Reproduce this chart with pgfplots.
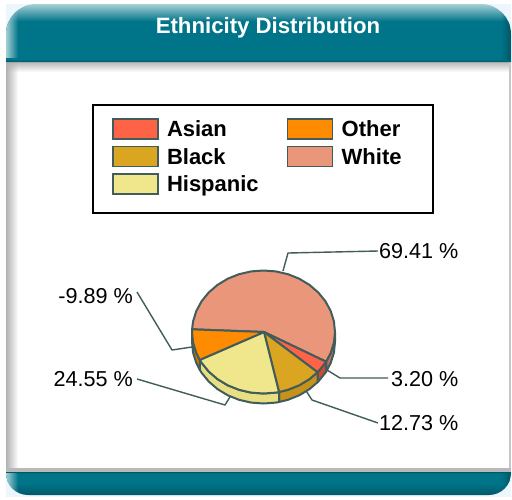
\documentclass[border=0pt]{standalone}
\usepackage{fontspec}
\setmainfont{Liberation Sans}
\usepackage{pgfplots}
\pgfplotsset{compat=1.18}
\usetikzlibrary{fadings}

\definecolor{cAsian}{RGB}{255,99,71}
\definecolor{cBlack}{RGB}{218,165,32}
\definecolor{cHisp}{RGB}{240,230,140}
\definecolor{cOther}{RGB}{255,140,0}
\definecolor{cWhite}{RGB}{233,150,122}
\definecolor{wAsian}{RGB}{205,75,50}
\definecolor{wBlack}{RGB}{198,146,26}
\definecolor{wHisp}{RGB}{232,222,130}
\definecolor{wOther}{RGB}{214,118,0}
\definecolor{wWhite}{RGB}{190,115,90}
\definecolor{cEdge}{RGB}{66,92,92}
\definecolor{cTeal}{RGB}{0,116,137}
\definecolor{cDark}{RGB}{0,88,104}
\definecolor{cLight}{RGB}{165,208,214}
\definecolor{cPage}{RGB}{238,246,253}

\pgfdeclareverticalshading{headshade}{100bp}{color(0bp)=(cDark); color(25bp)=(cDark); color(27.5bp)=(cTeal); color(60bp)=(cTeal); color(75bp)=(cLight); color(100bp)=(cLight)}
\pgfdeclareverticalshading{footshade}{100bp}{color(0bp)=(cDark); color(25bp)=(cDark); color(50bp)=(cTeal); color(72bp)=(cTeal); color(75bp)=(cDark); color(100bp)=(cDark)}

\tikzset{
    swatch/.style={draw=cEdge, line width=1.5pt, fill=#1},
    leader/.style={draw=cEdge, line width=1.4pt, line join=round},
    vlabel/.style={inner sep=0pt, font=\fontsize{21.6}{24}\selectfont},
}
\pgfplotsset{
    wedge/.style={draw=cEdge, line width=2pt, line join=round, forget plot},
}

\begin{document}
\begin{tikzpicture}
\begin{axis}[
    at={(0,0)}, anchor=south west,
    scale only axis, width=512pt, height=499pt,
    xmin=0, xmax=512, ymin=0, ymax=499,
    y dir=reverse,
    hide axis, clip=false,
    legend columns=2,
    legend cell align=left,
    legend image code/.code={\draw[#1] (0pt,-10pt) rectangle (45pt,10pt);},
    legend style={
        draw=none, fill=none,
        at={(axis cs:112,118)}, anchor=north west,
        font=\fontsize{22}{24}\selectfont\bfseries,
        inner sep=0pt, outer sep=0pt,
        row sep=6pt,
        nodes={inner sep=0pt, text height=15.5pt, text depth=0pt},
        /tikz/every odd column/.append style={column sep=8.5pt},
        /tikz/every even column/.append style={column sep=28pt},
    },
]
% panel background
\fill[white] (axis cs:0,0) rectangle (axis cs:512,499);
\fill[cPage] (axis cs:6,4) rectangle (axis cs:511,497);
\fill[white] (axis cs:6,60) rectangle (axis cs:511,472);
\shade[top color=gray!70, bottom color=white, opacity=0.8] (axis cs:6,62) rectangle (axis cs:511,72);
\fill[gray!60, path fading=east] (axis cs:6,62) rectangle (axis cs:18,470);
\fill[gray!45] (axis cs:509,62) rectangle (axis cs:511,472);
\fill[gray!55] (axis cs:6,468) rectangle (axis cs:511,473);
% header and footer
\begin{scope}
\clip (axis cs:6,62) [rounded corners=30pt] -- (axis cs:6,4) -- (axis cs:511,4) [sharp corners] -- (axis cs:511,62) -- cycle;
\shade[shading=headshade] (axis cs:6,4) rectangle (axis cs:511,62);
\fill[cLight, path fading=east] (axis cs:6,4) rectangle (axis cs:18,58);
\fill[cDark, path fading=west] (axis cs:501,4) rectangle (axis cs:511,60);
\end{scope}
\begin{scope}
\clip (axis cs:6,472) [rounded corners=22pt] -- (axis cs:6,495) -- (axis cs:511,495) [sharp corners] -- (axis cs:511,472) -- cycle;
\shade[shading=footshade] (axis cs:6,472) rectangle (axis cs:511,495);
\fill[cLight, path fading=east] (axis cs:6,473) rectangle (axis cs:18,495);
\fill[cDark, path fading=west] (axis cs:501,473) rectangle (axis cs:511,495);
\end{scope}
\node[text=white, font=\fontsize{22.2}{24}\selectfont\bfseries] at (axis cs:268,27.5) {Ethnicity Distribution};

% legend box
\draw[black, line width=1.5pt] (axis cs:93,105) rectangle (axis cs:433,213);
\addlegendimage{swatch=cAsian}\addlegendentry{Asian}
\addlegendimage{swatch=cOther}\addlegendentry{Other}
\addlegendimage{swatch=cBlack}\addlegendentry{Black}
\addlegendimage{swatch=cWhite}\addlegendentry{White}
\addlegendimage{swatch=cHisp}\addlegendentry{Hispanic}

% leaders
\draw[leader] (axis cs:283,271) -- (axis cs:288,253) -- (axis cs:378,251);
\draw[leader] (axis cs:137,292) -- (axis cs:172,350) -- (axis cs:192,347);
\draw[leader] (axis cs:137,379) -- (axis cs:225,405) -- (axis cs:233,392);
\draw[leader] (axis cs:327,370) -- (axis cs:340,378) -- (axis cs:388,378);
\draw[leader] (axis cs:303,386) -- (axis cs:312,400) -- (axis cs:378,423);

% side walls of the pie
\addplot[wedge, fill=wWhite] coordinates {(335,332) (333.9,342.7) (330.7,353) (326.1,361.7) (326.1,371.7) (330.7,363) (333.9,352.7) (335,342)} --cycle;
\addplot[wedge, fill=wAsian] coordinates {(326.1,361.7) (325.4,362.75) (318.3,371.5) (317.6,372.2) (317.6,382.2) (318.3,381.5) (325.4,372.75) (326.1,371.7)} --cycle;
\addplot[wedge, fill=wBlack] coordinates {(317.6,372.2) (309.5,379.1) (299.25,385.3) (288,389.8) (279,392) (279,402) (288,399.8) (299.25,395.3) (309.5,389.1) (317.6,382.2)} --cycle;
\addplot[wedge, fill=wHisp] coordinates {(279,392) (275.9,392.6) (263.5,393.5) (251.1,392.6) (239,389.8) (227.75,385.3) (217.5,379.1) (208.7,371.5) (201.6,362.75) (199.8,359.9) (199.8,369.9) (201.6,372.75) (208.7,381.5) (217.5,389.1) (227.75,395.3) (239,399.8) (251.1,402.6) (263.5,403.5) (275.9,402.6) (279,402)} --cycle;
\addplot[wedge, fill=wOther] coordinates {(199.8,359.9) (196.3,353) (193.1,342.7) (192,332) (192,342) (193.1,352.7) (196.3,363) (199.8,369.9)} --cycle;

% top of the pie
\addplot[wedge, fill=cWhite] coordinates {(264,332) (192.07,329.3) (193.1,321.3) (196.3,311) (201.6,301.25) (208.7,292.5) (217.5,284.9) (227.75,278.7) (239,274.2) (251.1,271.4) (263.5,270.5) (275.9,271.4) (288,274.2) (299.25,278.7) (309.5,284.9) (318.3,292.5) (325.4,301.25) (330.7,311) (333.9,321.3) (335,332) (333.9,342.7) (330.7,353) (326.1,361.7)} --cycle;
\addplot[wedge, fill=cAsian] coordinates {(264,332) (326.1,361.7) (325.4,362.75) (318.3,371.5) (317.6,372.2)} --cycle;
\addplot[wedge, fill=cBlack] coordinates {(264,332) (317.6,372.2) (309.5,379.1) (299.25,385.3) (288,389.8) (279,392)} --cycle;
\addplot[wedge, fill=cHisp] coordinates {(264,332) (279,392) (275.9,392.6) (263.5,393.5) (251.1,392.6) (239,389.8) (227.75,385.3) (217.5,379.1) (208.7,371.5) (201.6,362.75) (199.8,359.9)} --cycle;
\addplot[wedge, fill=cOther] coordinates {(264,332) (199.8,359.9) (196.3,353) (193.1,342.7) (192,332) (192.07,329.3)} --cycle;

% value labels
\node[vlabel, anchor=west] at (axis cs:379,251) {69.41 \%};
\node[vlabel, anchor=east] at (axis cs:133,296) {-9.89 \%};
\node[vlabel, anchor=east] at (axis cs:133,379) {24.55 \%};
\node[vlabel, anchor=west] at (axis cs:391,379) {3.20 \%};
\node[vlabel, anchor=west] at (axis cs:379,423) {12.73 \%};
\end{axis}
\end{tikzpicture}
\end{document}
